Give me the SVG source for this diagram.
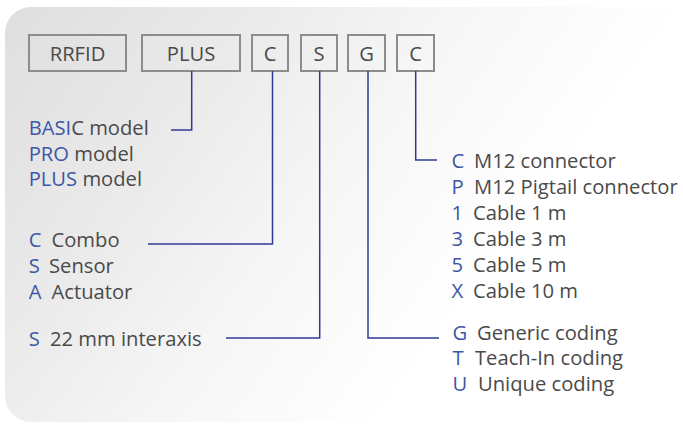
<svg xmlns="http://www.w3.org/2000/svg" width="683" height="427" viewBox="0 0 683 427">
  <defs>
    <linearGradient id="bg" gradientUnits="userSpaceOnUse" x1="0" y1="0" x2="600" y2="440">
      <stop offset="0" stop-color="#dedede"/>
      <stop offset="0.3" stop-color="#ebebeb"/>
      <stop offset="0.5" stop-color="#f6f6f6"/>
      <stop offset="0.75" stop-color="#ffffff"/>
    </linearGradient>
  </defs>
  <style>
    text { font-family: "Open Sans", "Liberation Sans", sans-serif; font-size: 20.2px; fill: #4a4a4a; }
    .k { fill: #3d56a6; }
    .box { fill: none; stroke: #8c8c8c; stroke-width: 2; }
    .bt { text-anchor: middle; }
    .ln { fill: none; stroke: #2e3b96; stroke-width: 1.5; }
  </style>
  <rect x="5" y="7" width="720" height="415" rx="26" ry="26" fill="url(#bg)"/>

  <g id="box-rrfid"><rect class="box" x="29" y="35" width="97" height="36"/><text class="bt" x="77.5" y="61">RRFID</text></g>
  <g id="box-plus"><rect class="box" x="142" y="35" width="98" height="36"/><text class="bt" x="191" y="61">PLUS</text></g>
  <g id="box-c1"><rect class="box" x="252" y="35" width="36" height="36"/><text class="bt" x="270" y="61">C</text></g>
  <g id="box-s"><rect class="box" x="301" y="35" width="36" height="36"/><text class="bt" x="319" y="61">S</text></g>
  <g id="box-g"><rect class="box" x="348" y="35" width="37" height="36"/><text class="bt" x="366.5" y="61">G</text></g>
  <g id="box-c2"><rect class="box" x="397" y="35" width="37" height="36"/><text class="bt" x="415.5" y="61">C</text></g>

  <g id="connectors">
    <polyline class="ln" points="191.7,71 191.7,130 171,130"/>
    <polyline class="ln" points="272.5,71 272.5,244 148,244"/>
    <polyline class="ln" points="319.7,71 319.7,338 226,338"/>
    <polyline class="ln" points="368,71 368,338 439,338"/>
    <polyline class="ln" points="415.7,71 415.7,160 437,160"/>
  </g>

  <g id="model-legend">
    <text x="28.7" y="135"><tspan class="k">BASI</tspan>C model</text>
    <text x="28.7" y="160.5"><tspan class="k">PRO</tspan> model</text>
    <text x="28.7" y="186"><tspan class="k">PLUS</tspan> model</text>
  </g>

  <g id="function-legend">
    <text class="k" x="28.7" y="247">C</text><text x="51.5" y="247">Combo</text>
    <text class="k" x="28.7" y="272.5">S</text><text x="49" y="272.5">Sensor</text>
    <text class="k" x="28.7" y="298.5">A</text><text x="51.5" y="298.5">Actuator</text>
  </g>

  <g id="interaxis-legend">
    <text class="k" x="28.7" y="345.5">S</text><text x="50" y="345.5">22 mm interaxis</text>
  </g>

  <g id="connection-legend">
    <text class="k" x="451.5" y="168">C</text><text x="474" y="168">M12 connector</text>
    <text class="k" x="451.5" y="194">P</text><text x="474" y="194">M12 Pigtail connector</text>
    <text class="k" x="451.5" y="220">1</text><text x="473" y="220">Cable 1 m</text>
    <text class="k" x="451.5" y="246">3</text><text x="473" y="246">Cable 3 m</text>
    <text class="k" x="451.5" y="272">5</text><text x="473" y="272">Cable 5 m</text>
    <text class="k" x="451.5" y="297.5">X</text><text x="473" y="297.5">Cable 10 m</text>
  </g>

  <g id="coding-legend">
    <text class="k" x="452.5" y="339.5">G</text><text x="477" y="339.5">Generic coding</text>
    <text class="k" x="452.5" y="365">T</text><text x="475" y="365">Teach-In coding</text>
    <text class="k" x="452.5" y="390.5">U</text><text x="478" y="390.5">Unique coding</text>
  </g>
</svg>
